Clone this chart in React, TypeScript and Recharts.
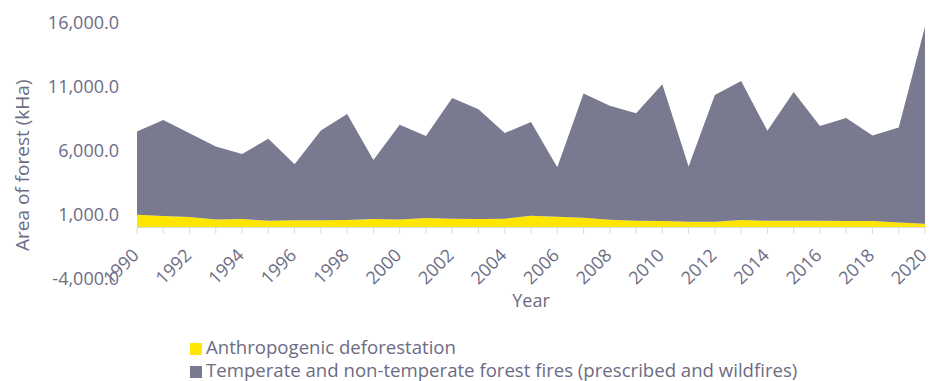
import { AreaChart, Area, XAxis, YAxis, Legend } from 'recharts';

document.body.style.margin = '0';

const years = [
  '1990', '1991', '1992', '1993', '1994', '1995', '1996', '1997', '1998', '1999', '2000',
  '2001', '2002', '2003', '2004', '2005', '2006', '2007', '2008', '2009', '2010',
  '2011', '2012', '2013', '2014', '2015', '2016', '2017', '2018', '2019', '2020',
];

// kHa per year
const deforestation = [
  1000, 900, 820, 630, 660, 530, 560, 560, 590, 660, 630,
  740, 690, 660, 690, 920, 840, 770, 610, 530, 510,
  450, 450, 590, 530, 530, 530, 510, 510, 400, 300,
];

const forestFires = [
  6510, 7520, 6560, 5700, 5100, 6410, 4380, 7030, 8300, 4630, 7400,
  6410, 9450, 8590, 6700, 7340, 3880, 9710, 8910, 8410, 10700,
  4330, 9920, 10880, 7030, 10080, 7420, 8050, 6690, 7420, 15410,
];

const yTicks = [-4000, 1000, 6000, 11000, 16000];

const labelledYears = [
  '1990', '1992', '1994', '1996', '1998', '2000', '2002', '2004',
  '2006', '2008', '2010', '2012', '2014', '2016', '2018', '2020',
];

const rows = years.map((year, i) => ({
  year,
  deforestation: deforestation[i],
  fires: forestFires[i],
}));

const TEXT = '#6c6c84';
const FONT = '"Open Sans", sans-serif';
const YELLOW = '#ffe600';
const GREY = '#79798f';

const fmt = (v: number) =>
  v.toLocaleString('en-US', { minimumFractionDigits: 1, maximumFractionDigits: 1 });

// rotated year labels, every other year only
const YearTick = (props: any) => {
  const { x, y, payload } = props;
  if (!labelledYears.includes(payload.value)) return null;
  const tx = x - 2;
  return (
    <text
      x={tx}
      y={y}
      transform={`rotate(-45 ${tx} ${y})`}
      textAnchor="end"
      dominantBaseline="central"
      fill={TEXT}
      fontSize={18}
      fontFamily={FONT}
    >
      {payload.value}
    </text>
  );
};

export default function App() {
  return (
    <AreaChart
      width={929}
      height={381}
      data={rows}
      margin={{ top: 23, right: 4, bottom: 74.5, left: 0 }}
      style={{ fontFamily: FONT }}
    >
      <XAxis
        dataKey="year"
        interval={0}
        height={79}
        tick={<YearTick />}
        tickSize={6}
        tickMargin={18}
        axisLine={{ stroke: '#d9d9d9' }}
        tickLine={{ stroke: '#d9d9d9' }}
        label={{ value: 'Year', position: 'insideBottom', offset: 0, fill: TEXT, fontSize: 18, fontFamily: FONT }}
      />
      <YAxis
        width={137}
        domain={[0, 16000]}
        allowDataOverflow
        ticks={yTicks}
        interval={0}
        tickFormatter={fmt}
        axisLine={false}
        tickLine={false}
        tickSize={6}
        tickMargin={12}
        tick={{ fill: TEXT, fontSize: 18, fontFamily: FONT }}
        label={{
          value: 'Area of forest (kHa)',
          angle: -90,
          position: 'center',
          dx: -46,
          dy: 40,
          fill: TEXT,
          fontSize: 19,
          fontFamily: FONT,
        }}
      />
      <Legend
        layout="vertical"
        align="center"
        verticalAlign="middle"
        iconType="square"
        iconSize={12}
        wrapperStyle={{ left: 190, top: 335, fontSize: 18.6, lineHeight: '23px', fontFamily: FONT }}
        formatter={(value) => <span style={{ color: TEXT }}>{value}</span>}
      />
      <Area
        type="linear"
        dataKey="deforestation"
        name="Anthropogenic deforestation"
        stackId="1"
        stroke="none"
        fill={YELLOW}
        fillOpacity={1}
        isAnimationActive={false}
      />
      <Area
        type="linear"
        dataKey="fires"
        name="Temperate and non-temperate forest fires (prescribed and wildfires)"
        stackId="1"
        stroke="none"
        fill={GREY}
        fillOpacity={1}
        isAnimationActive={false}
      />
    </AreaChart>
  );
}
